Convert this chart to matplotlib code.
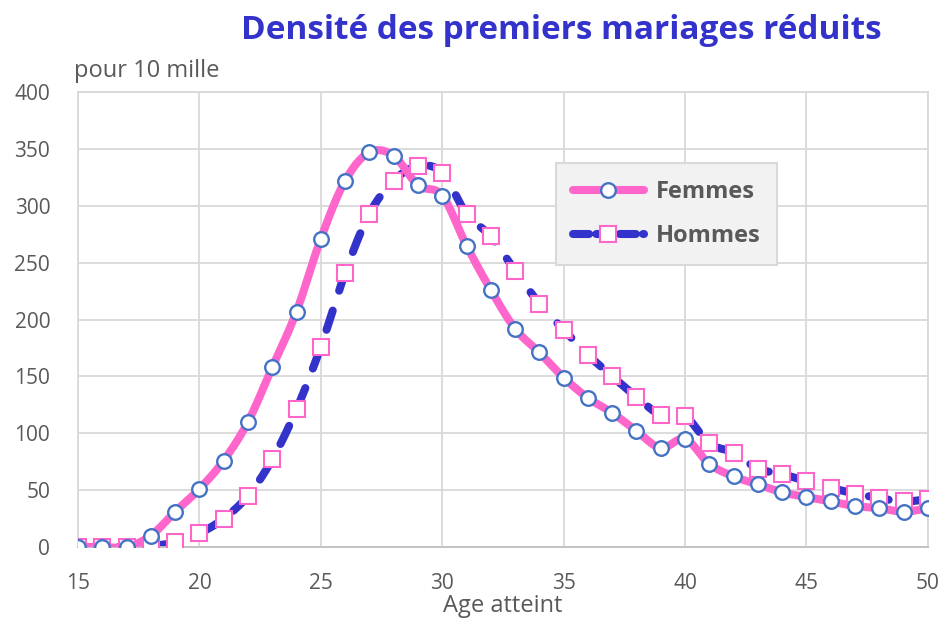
import numpy as np
import matplotlib
matplotlib.use("Agg")
import matplotlib.pyplot as plt

# values (per 10 000)
ages = list(range(15, 51))
femmes = [0, 0, 0, 10, 31, 51, 76, 110, 158, 207, 271, 322, 347, 344, 318, 309,
          265, 226, 192, 171, 149, 131, 118, 102, 87, 95, 73, 62, 55, 48, 44, 40,
          36, 34, 31, 34]
hommes = [0, 0, 0, 1, 4, 12, 25, 45, 77, 121, 176, 241, 293, 322, 335, 329,
          293, 273, 243, 214, 191, 169, 150, 132, 116, 115, 91, 83, 69, 64, 58,
          52, 47, 43, 40, 42]


def smooth(x, y, n=12):
    # catmull-rom curve through the points, like Excel's smoothed line
    x = np.asarray(x, float)
    y = np.asarray(y, float)
    px = np.concatenate([[2 * x[0] - x[1]], x, [2 * x[-1] - x[-2]]])
    py = np.concatenate([[2 * y[0] - y[1]], y, [2 * y[-1] - y[-2]]])
    t = np.linspace(0, 1, n, endpoint=False)
    xs, ys = [], []
    for i in range(1, len(px) - 2):
        for p, out in ((px, xs), (py, ys)):
            p0, p1, p2, p3 = p[i - 1], p[i], p[i + 1], p[i + 2]
            out.extend(0.5 * (2 * p1 + (-p0 + p2) * t
                              + (2 * p0 - 5 * p1 + 4 * p2 - p3) * t ** 2
                              + (-p0 + 3 * p1 - 3 * p2 + p3) * t ** 3))
    xs.append(x[-1])
    ys.append(y[-1])
    return np.array(xs), np.array(ys)


plt.rcParams["font.family"] = ["Open Sans", "DejaVu Sans"]
grey = "#595959"
pink = "#FF66CC"
blue = "#3333CC"

fig = plt.figure(figsize=(9.42, 6.18), dpi=100)
ax = fig.add_axes([0.0828, 0.1149, 0.9022, 0.7362])

sx, sy = smooth(ages, femmes)
ax.plot(sx, sy, color=pink, lw=5.8, solid_capstyle="round", zorder=3)
ax.plot(ages, femmes, ls="none", marker="o", ms=10.5, mfc="white", mec="#4472C4",
        mew=1.7, zorder=5)

hx, hy = smooth(ages, hommes)
ax.plot(hx, hy, color=blue, lw=5.8, dashes=(2.5, 2.6), dash_capstyle="round", zorder=2)
ax.plot(ages, hommes, ls="none", marker="s", ms=11, mfc="white", mec=pink,
        mew=1.5, zorder=4)

# legend proxies
lf, = ax.plot([], [], color=pink, lw=5.8, marker="o", ms=10.5, mfc="white",
              mec="#4472C4", mew=1.7, solid_capstyle="round")
lh, = ax.plot([], [], color=blue, lw=5.8, dashes=(2.0, 0.9), marker="s", ms=11,
              mfc="white", mec=pink, mew=1.5, dash_capstyle="round")
leg = ax.legend([lf, lh], ["Femmes", "Hommes"], loc="upper left",
                bbox_to_anchor=(0.563, 0.843), frameon=True, fancybox=False,
                handlelength=3.0, handletextpad=0.5, borderpad=0.7,
                labelspacing=0.85, borderaxespad=0,
                prop={"weight": "bold", "size": 17})
leg.get_frame().set_facecolor("#F2F2F2")
leg.get_frame().set_edgecolor("#D9D9D9")
leg.get_frame().set_linewidth(1.5)
leg.get_frame().set_alpha(1)
for t in leg.get_texts():
    t.set_color(grey)

ax.set_xlim(15, 50)
ax.set_ylim(0, 400)
ax.set_xticks(range(15, 51, 5))
ax.set_yticks(range(0, 401, 50))
ax.grid(True, color="#D9D9D9", lw=1.3)
ax.set_axisbelow(True)
for s in ax.spines.values():
    s.set_color("#D9D9D9")
    s.set_linewidth(1.3)
ax.spines["bottom"].set_color("#BFBFBF")
ax.tick_params(length=0, labelsize=15, labelcolor=grey)
ax.tick_params(axis="x", pad=19)
ax.tick_params(axis="y", pad=20)

fig.text(0.534, 0.0, "Age atteint", fontsize=17, color=grey, ha="center", va="bottom")
fig.text(0.079, 0.876, "pour 10 mille", fontsize=17, color=grey, ha="left")
fig.text(0.596, 0.95, "Densité des premiers mariages réduits", fontsize=24,
         fontweight="bold", color=blue, ha="center", va="center")

fig.savefig("out.png", dpi=100)
